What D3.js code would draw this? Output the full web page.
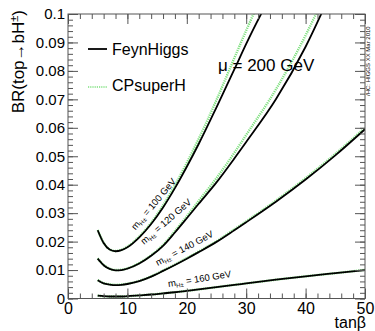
<!DOCTYPE html>
<html>
<head>
<meta charset="utf-8">
<script src="https://cdn.jsdelivr.net/npm/d3@7"></script>
<style>
  body { margin: 0; background: #fff; }
  text { font-family: 'Liberation Sans', Arial, sans-serif; fill: #000; }
</style>
</head>
<body>
<div id="chart"></div>
<script>
// tan(beta) grid shared by all curves
const tanBeta = [5, 6, 7, 8, 9, 10, 12, 14, 16, 18, 20, 22, 25, 28, 30, 35, 40, 45, 50];

// FeynHiggs (black), one array per charged Higgs mass
const fh100 = [0.0240, 0.0195, 0.0172, 0.0166, 0.0170, 0.0180, 0.0215, 0.0262, 0.0320, 0.0388, 0.0463, 0.0543, 0.0672, 0.0805, 0.0895, 0.1100, null, null, null];
const fh120 = [0.0140, 0.0117, 0.0104, 0.0099, 0.0100, 0.0105, 0.0123, 0.0150, 0.0185, 0.0232, 0.0282, 0.0333, 0.0408, 0.0492, 0.0550, 0.0700, 0.0885, 0.1110, null];
const fh140 = [0.0064, 0.0053, 0.0049, 0.0047, 0.0048, 0.0051, 0.0061, 0.0077, 0.0097, 0.0118, 0.0140, 0.0163, 0.0199, 0.0240, 0.0268, 0.0340, 0.0418, 0.0503, 0.0595];
const fh160 = [0.0010, 0.0008, 0.0007, 0.0007, 0.0007, 0.0008, 0.0011, 0.0014, 0.0018, 0.0022, 0.0027, 0.0032, 0.0040, 0.0048, 0.0053, 0.0066, 0.0078, 0.0089, 0.0100];

// CPsuperH (green dotted)
const cp100 = [0.0241, 0.0196, 0.0173, 0.0167, 0.0171, 0.0182, 0.0218, 0.0266, 0.0327, 0.0398, 0.0477, 0.0561, 0.0698, 0.0845, 0.0942, 0.1170, null, null, null];
const cp120 = [0.0141, 0.0118, 0.0105, 0.0100, 0.0101, 0.0106, 0.0125, 0.0152, 0.0188, 0.0237, 0.0289, 0.0343, 0.0423, 0.0512, 0.0575, 0.0735, 0.0925, 0.1150, null];
const cp140 = [0.0065, 0.0054, 0.0050, 0.0048, 0.0049, 0.0052, 0.0062, 0.0078, 0.0098, 0.0119, 0.0142, 0.0165, 0.0201, 0.0243, 0.0271, 0.0344, 0.0423, 0.0508, 0.0600];
const cp160 = [0.0010, 0.0008, 0.0007, 0.0007, 0.0007, 0.0008, 0.0011, 0.0014, 0.0018, 0.0022, 0.0027, 0.0032, 0.0040, 0.0048, 0.0053, 0.0066, 0.0078, 0.0089, 0.0101];

const massLabels = ['100', '120', '140', '160'];

const xTicks = [0, 10, 20, 30, 40, 50];
const xTickLabels = ['0', '10', '20', '30', '40', '50'];
const yTicks = [0, 0.01, 0.02, 0.03, 0.04, 0.05, 0.06, 0.07, 0.08, 0.09, 0.1];
const yTickLabels = ['0', '0.01', '0.02', '0.03', '0.04', '0.05', '0.06', '0.07', '0.08', '0.09', '0.1'];

const W = 375, H = 331;
const frame = { left: 68, right: 365, top: 14, bottom: 298.5 };
const green = '#7ee07e';

const svg = d3.select('#chart').append('svg')
  .attr('width', W)
  .attr('height', H);

svg.append('rect').attr('width', W).attr('height', H).attr('fill', '#fff');

const x = d3.scaleLinear().domain([0, 50]).range([frame.left, frame.right]);
const y = d3.scaleLinear().domain([0, 0.1]).range([frame.bottom, frame.top]);

svg.append('clipPath').attr('id', 'plot-clip')
  .append('rect')
  .attr('x', frame.left).attr('y', frame.top)
  .attr('width', frame.right - frame.left)
  .attr('height', frame.bottom - frame.top);

// curves
const line = d3.line()
  .defined(d => d[1] !== null)
  .x(d => x(d[0]))
  .y(d => y(d[1]))
  .curve(d3.curveMonotoneX);

const toPoints = vals => tanBeta.map((t, i) => [t, vals[i]]);

const curves = svg.append('g').attr('clip-path', 'url(#plot-clip)');

[cp100, cp120, cp140, cp160].forEach(s => {
  curves.append('path')
    .attr('d', line(toPoints(s)))
    .attr('fill', 'none')
    .attr('stroke', green)
    .attr('stroke-width', 2.4)
    .attr('stroke-dasharray', '1.2,1');
});

[fh100, fh120, fh140, fh160].forEach(s => {
  curves.append('path')
    .attr('d', line(toPoints(s)))
    .attr('fill', 'none')
    .attr('stroke', '#000')
    .attr('stroke-width', 1.8);
});

// frame and ticks (ROOT style: ticks inside, mirrored on top/right)
const axisColor = '#555';
function styleAxis(g) {
  g.select('.domain').remove();
  g.selectAll('.tick line').attr('stroke', axisColor);
}

const xMinor = d3.range(0, 51, 2);
const yMinor = d3.range(0, 0.1001, 0.002);

svg.append('g')
  .attr('transform', `translate(0,${frame.bottom})`)
  .call(d3.axisBottom(x).tickValues(xMinor).tickSize(-5).tickFormat(''))
  .call(styleAxis);
svg.append('g')
  .attr('transform', `translate(0,${frame.top})`)
  .call(d3.axisTop(x).tickValues(xMinor).tickSize(-5).tickFormat(''))
  .call(styleAxis);
svg.append('g')
  .attr('transform', `translate(${frame.left},0)`)
  .call(d3.axisLeft(y).tickValues(yMinor).tickSize(-5).tickFormat(''))
  .call(styleAxis);
svg.append('g')
  .attr('transform', `translate(${frame.right},0)`)
  .call(d3.axisRight(y).tickValues(yMinor).tickSize(-5).tickFormat(''))
  .call(styleAxis);

svg.append('g')
  .attr('transform', `translate(0,${frame.bottom})`)
  .call(d3.axisBottom(x).tickValues(xTicks).tickSize(-10).tickPadding(4)
    .tickFormat((d, i) => xTickLabels[i]))
  .call(styleAxis)
  .call(g => g.selectAll('text').style('font-size', '16px').attr('fill', '#000'));
svg.append('g')
  .attr('transform', `translate(0,${frame.top})`)
  .call(d3.axisTop(x).tickValues(xTicks).tickSize(-10).tickFormat(''))
  .call(styleAxis);
svg.append('g')
  .attr('transform', `translate(${frame.left},0)`)
  .call(d3.axisLeft(y).tickValues(yTicks).tickSize(-10).tickPadding(3)
    .tickFormat((d, i) => yTickLabels[i]))
  .call(styleAxis)
  .call(g => g.selectAll('text').style('font-size', '15px').attr('fill', '#000'));
svg.append('g')
  .attr('transform', `translate(${frame.right},0)`)
  .call(d3.axisRight(y).tickValues(yTicks).tickSize(-10).tickFormat(''))
  .call(styleAxis);

svg.append('rect')
  .attr('x', frame.left).attr('y', frame.top)
  .attr('width', frame.right - frame.left)
  .attr('height', frame.bottom - frame.top)
  .attr('fill', 'none')
  .attr('stroke', axisColor)
  .attr('stroke-width', 1);

// axis titles
const yTitle = svg.append('text')
  .attr('transform', 'translate(24,10) rotate(-90)')
  .attr('text-anchor', 'end')
  .style('font-size', '17px')
  .text('BR(top\u2192bH');
yTitle.append('tspan').attr('dy', -6).style('font-size', '11px').text('\u00B1');
yTitle.append('tspan').attr('dy', 6).text(')');

svg.append('text')
  .attr('x', 366).attr('y', 328)
  .attr('text-anchor', 'end')
  .style('font-size', '16px')
  .text('tan\u03B2');

// legend
const legend = svg.append('g');
legend.append('line')
  .attr('x1', 88).attr('x2', 107).attr('y1', 49).attr('y2', 49)
  .attr('stroke', '#000').attr('stroke-width', 1.8);
legend.append('text')
  .attr('x', 112).attr('y', 49).attr('dy', '0.35em')
  .style('font-size', '16px')
  .text('FeynHiggs');
legend.append('line')
  .attr('x1', 88).attr('x2', 107).attr('y1', 87).attr('y2', 87)
  .attr('stroke', green).attr('stroke-width', 1.6)
  .attr('stroke-dasharray', '1.2,1');
legend.append('text')
  .attr('x', 112).attr('y', 85).attr('dy', '0.35em')
  .style('font-size', '16px')
  .text('CPsuperH');

svg.append('text')
  .attr('x', 218).attr('y', 65).attr('dy', '0.35em')
  .style('font-size', '17px')
  .text('\u03BC = 200 GeV');

// mass labels along the curves
const labelPos = [
  { cx: 156, cy: 206, angle: -50 },
  { cx: 168, cy: 224, angle: -41 },
  { cx: 186, cy: 251, angle: -28 },
  { cx: 200, cy: 282, angle: -9 }
];
massLabels.forEach((m, i) => {
  const p = labelPos[i];
  const t = svg.append('text')
    .attr('transform', `translate(${p.cx},${p.cy}) rotate(${p.angle})`)
    .attr('text-anchor', 'middle')
    .style('font-size', '9.5px')
    .text('m');
  t.append('tspan').attr('dy', 2).style('font-size', '6px').text('H\u00B1');
  t.append('tspan').attr('dy', -2).text(` = ${m} GeV`);
});

// side stamp
svg.append('text')
  .attr('transform', 'translate(370,96) rotate(-90)')
  .attr('text-anchor', 'start')
  .style('font-size', '6px')
  .attr('fill', '#333')
  .text('/HC: HIGGS XX Mar 2010');
</script>
</body>
</html>
